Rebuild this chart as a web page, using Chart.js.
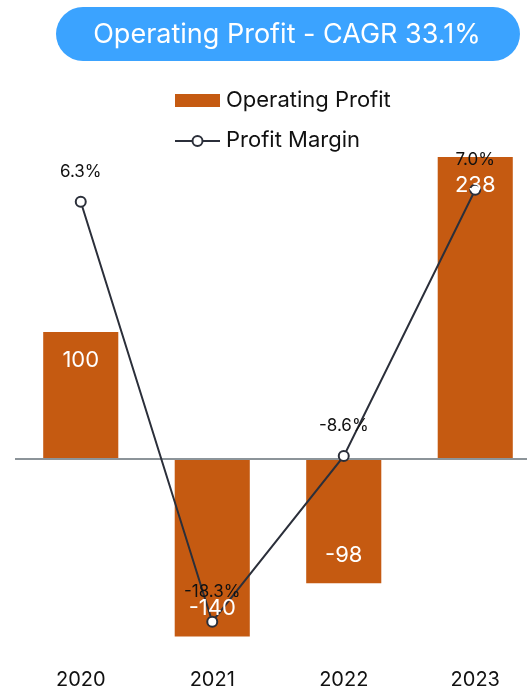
<!DOCTYPE html>
<html>
<head>
<meta charset="utf-8">
<script src="https://cdn.jsdelivr.net/npm/chart.js@4"></script>
<style>
html, body { margin: 0; padding: 0; background: #fff; overflow: hidden; }
#wrap { position: relative; width: 548px; height: 693px; }
</style>
</head>
<body>
<div id="wrap"><canvas id="chart" width="548" height="693"></canvas></div>
<script>
const years = ['2020', '2021', '2022', '2023'];
const operatingProfit = [100, -140, -98, 238];
const profitMargin = [6.3, -18.3, -8.6, 7.0];
const chartTitle = 'Operating Profit - CAGR 33.1%';

const barColor = '#C55A11';
const lineColor = '#2B2F3A';
const FONT = 'Inter, "Noto Sans", sans-serif';

// title pill + two-row legend, drawn on the canvas
const decorPlugin = {
    id: 'decor',
    afterDraw(chart) {
        const ctx = chart.ctx;
        ctx.save();
        ctx.fillStyle = '#3BA3FF';
        ctx.beginPath();
        ctx.roundRect(56, 7, 464, 54, 27);
        ctx.fill();
        ctx.fillStyle = '#fff';
        ctx.font = '27px ' + FONT;
        ctx.textAlign = 'center';
        ctx.textBaseline = 'middle';
        ctx.fillText(chartTitle, 287, 35);

        const ds = chart.data.datasets;
        ctx.textAlign = 'left';
        ctx.font = '22px ' + FONT;
        ctx.fillStyle = ds[0].backgroundColor;
        ctx.fillRect(175, 94, 45, 13);
        ctx.fillStyle = '#111';
        ctx.fillText(ds[0].label, 226, 100);

        ctx.strokeStyle = ds[1].borderColor;
        ctx.lineWidth = 2;
        ctx.beginPath();
        ctx.moveTo(175, 141);
        ctx.lineTo(220, 141);
        ctx.stroke();
        ctx.beginPath();
        ctx.arc(197.5, 141, 5, 0, Math.PI * 2);
        ctx.fillStyle = '#fff';
        ctx.fill();
        ctx.stroke();
        ctx.fillStyle = '#111';
        ctx.fillText(ds[1].label, 226, 140);
        ctx.restore();
    }
};

// value labels: inside bar ends, above line points
const labelPlugin = {
    id: 'valueLabels',
    afterDatasetsDraw(chart) {
        const ctx = chart.ctx;
        ctx.save();
        ctx.textAlign = 'center';
        ctx.textBaseline = 'middle';
        chart.getDatasetMeta(0).data.forEach((bar, i) => {
            const v = operatingProfit[i];
            ctx.font = '22px ' + FONT;
            ctx.fillStyle = '#fff';
            ctx.fillText(String(v), bar.x, v >= 0 ? bar.y + 28 : bar.y - 28);
        });
        chart.getDatasetMeta(1).data.forEach((pt, i) => {
            ctx.font = '17px ' + FONT;
            ctx.fillStyle = '#111';
            ctx.fillText(profitMargin[i].toFixed(1) + '%', pt.x, pt.y - 30);
        });
        ctx.restore();
    }
};

new Chart(document.getElementById('chart'), {
    type: 'bar',
    data: {
        labels: years,
        datasets: [{
            type: 'bar',
            label: 'Operating Profit',
            data: operatingProfit,
            backgroundColor: barColor,
            barPercentage: 1,
            categoryPercentage: 0.571,
            yAxisID: 'y',
            order: 2
        }, {
            type: 'line',
            label: 'Profit Margin',
            data: profitMargin,
            borderColor: lineColor,
            borderWidth: 2,
            pointRadius: 5,
            pointBorderWidth: 2,
            pointBackgroundColor: '#fff',
            pointBorderColor: lineColor,
            yAxisID: 'y1',
            order: 1
        }]
    },
    options: {
        responsive: false,
        animation: false,
        layout: { padding: { top: 129, left: 15, right: 0, bottom: 1 } },
        plugins: {
            legend: { display: false },
            title: { display: false },
            tooltip: { enabled: false }
        },
        scales: {
            x: {
                grid: { display: false, drawTicks: false },
                border: { display: false },
                ticks: { color: '#111', font: { family: FONT, size: 20 }, padding: 6 },
                afterFit: (scale) => { scale.height = 30; }
            },
            y: {
                min: -160,
                max: 260,
                ticks: { display: false, stepSize: 20 },
                border: { display: false },
                grid: {
                    drawTicks: false,
                    lineWidth: 2,
                    color: (c) => c.tick && c.tick.value === 0 ? '#8C9499' : 'rgba(0,0,0,0)'
                }
            },
            y1: {
                display: false,
                min: -20.66,
                max: 10.56
            }
        }
    },
    plugins: [decorPlugin, labelPlugin]
});
</script>
</body>
</html>
